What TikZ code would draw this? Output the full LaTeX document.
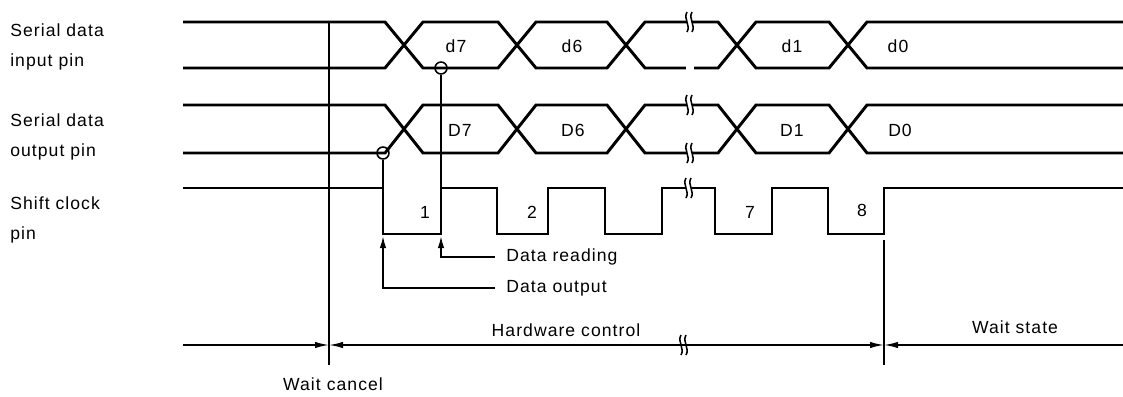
\documentclass[tikz,border=0pt]{standalone}
\usepackage{fontspec}
\setmainfont[LetterSpace=6]{Liberation Sans}
\usetikzlibrary{arrows.meta}
\tikzset{
    wave/.style={line width=2.1pt, line join=miter},
    thinline/.style={line width=1.1pt},
    lbl/.style={inner sep=0pt, align=left, font=\fontsize{12.5}{21.5}\selectfont},
    ring/.style={circle, draw, line width=1.1pt, minimum size=3mm, inner sep=0pt},
    tip/.style={thinline, -{Latex[length=3mm,width=1.6mm]}},
    dim/.style={thinline, {Latex[length=3.5mm,width=1.6mm]}-{Latex[length=3.5mm,width=1.6mm]}},
    brk/.pic={
        \fill[white] (-3,-10) .. controls (-7,-3) and (1,3) .. (-3,10) -- (2,10) .. controls (6,3) and (-2,-3) .. (2,-10) -- cycle;
        \draw[line width=1.1pt] (-3,-10) .. controls (-7,-3) and (1,3) .. (-3,10);
        \draw[line width=1.1pt] (2,-10) .. controls (-2,-3) and (6,3) .. (2,10);
    }
}
% one line of a data bus: starts at #1, crosses over to #2 and back
\newcommand\busline[2]{%
  \draw[wave] (183,#1) -- (385,#1) -- (423,#2) -- (498,#2) -- (536,#1) -- (607,#1)
     -- (645,#2) -- (718,#2) -- (756,#1) -- (829,#1) -- (867,#2) -- (1123,#2);}
\begin{document}
\begin{tikzpicture}[x=0.025cm, y=-0.025cm]
\useasboundingbox (0,0) rectangle (1123,396);

% Pin names
\node[lbl, anchor=north west] (inpin)  at (10,23)  {Serial data\\input pin};
\node[lbl, anchor=north west] (outpin) at (10,113) {Serial data\\output pin};
\node[lbl, anchor=north west] (clkpin) at (10,196) {Shift clock\\pin};

% Serial data input
\busline{22}{68}
\busline{68}{22}
\fill[white] (686,63) rectangle (694,73);
\node[lbl] (d7) at (456,46) {d7};
\node[lbl] (d6) at (572,46) {d6};
\node[lbl] (d1) at (792,46) {d1};
\node[lbl] (d0) at (898,46) {d0};

% Serial data output
\busline{105}{153}
\busline{153}{105}
\node[lbl] (D7) at (460,130) {D7};
\node[lbl] (D6) at (573,130) {D6};
\node[lbl] (D1) at (792,130) {D1};
\node[lbl] (D0) at (900,130) {D0};

% Shift clock
\draw[wave] (183,188) -- (383,188) -- (383,234) -- (441,234) -- (441,188) -- (497,188)
   -- (497,234) -- (548,234) -- (548,188) -- (605,188) -- (605,234) -- (662,234)
   -- (662,188) -- (715,188) -- (715,234) -- (772,234) -- (772,188) -- (828,188)
   -- (828,234) -- (884,234) -- (884,188) -- (1123,188);
\node[lbl] (c1) at (425,212) {1};
\node[lbl] (c2) at (532,212) {2};
\node[lbl] (c7) at (750,212) {7};
\node[lbl] (c8) at (862,210) {8};

% Breaks
\pic at (690,22)  {brk};
\pic at (690,105) {brk};
\pic at (690,153) {brk};
\pic at (689,188) {brk};
\pic at (684,345) {brk};

% Sampling points
\node[ring] (rd) at (441,68)  {};
\node[ring] (wr) at (383,153) {};
\coordinate (rdedge) at (441,188);
\coordinate (wredge) at (383,188);
\draw[thinline] (rd) -- (rdedge);
\draw[thinline] (wr) -- (wredge);

% Callouts
\node[lbl, anchor=west] (dread) at (506,257) {Data reading};
\node[lbl, anchor=west] (dout)  at (506,288) {Data output};
\coordinate (rdend) at (495,257);
\coordinate (woend) at (495,288);
\coordinate (rdtip) at (441,236);
\coordinate (wotip) at (383,236);
\draw[tip] (rdend) -| (rdtip);
\draw[tip] (woend) -| (wotip);

% Time axis
\coordinate (ax0) at (183,345);
\coordinate (wc)  at (329,345);
\coordinate (we)  at (884,345);
\coordinate (ax1) at (1123,345);
\draw[thinline] (329,22) -- (329,365);
\draw[thinline] (884,240) -- (884,365);
\draw[thinline, -{Latex[length=3.5mm,width=1.6mm]}] (ax0) -- (wc);
\draw[dim] (wc) -- (we);
\draw[thinline, {Latex[length=3.5mm,width=1.6mm]}-] (we) -- (ax1);
\node[lbl] (hw)   at (566,330) {Hardware control};
\node[lbl] (ws)   at (1015,327) {Wait state};
\node[lbl] (wcan) at (333,384) {Wait cancel};
\end{tikzpicture}
\end{document}
